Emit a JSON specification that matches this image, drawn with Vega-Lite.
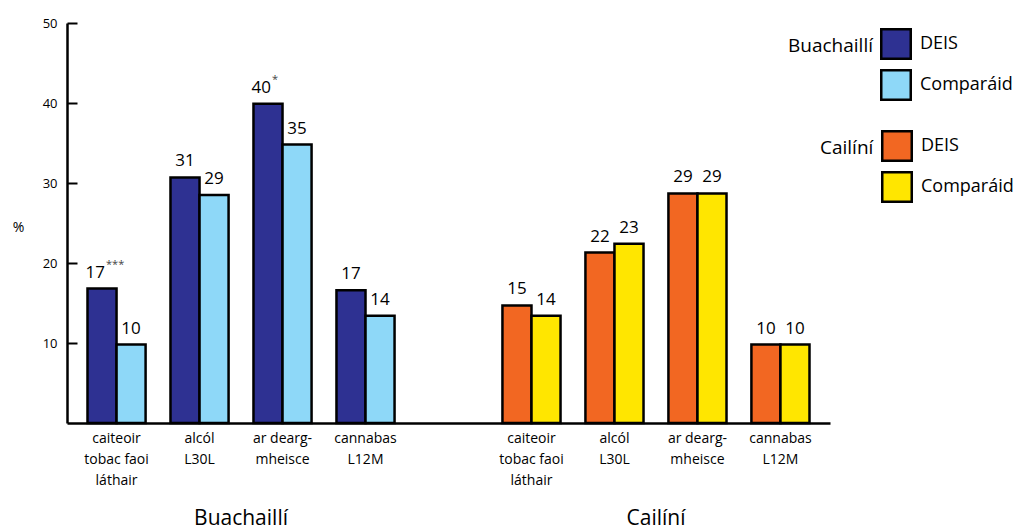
{
  "$schema": "https://vega.github.io/schema/vega-lite/v6.json",
  "width": 763,
  "height": 400,
  "autosize": {"type": "none"},
  "padding": {"left": 67, "top": 23, "right": 189, "bottom": 108},
  "config": {
    "view": {"stroke": null},
    "font": "Open Sans",
    "axis": {"labelFont": "Open Sans", "titleFont": "Open Sans"},
    "legend": {"labelFont": "Open Sans", "titleFont": "Open Sans"},
    "text": {"font": "Open Sans"}
  },
  "data": {
    "values": [
      {"gender": "Buachaillí", "measure": "caiteoir|tobac faoi|láthair", "group": "DEIS", "value": 16.8, "label": "17", "sig": "***"},
      {"gender": "Buachaillí", "measure": "caiteoir|tobac faoi|láthair", "group": "Comparáid", "value": 9.8, "label": "10", "sig": ""},
      {"gender": "Buachaillí", "measure": "alcól|L30L", "group": "DEIS", "value": 30.7, "label": "31", "sig": ""},
      {"gender": "Buachaillí", "measure": "alcól|L30L", "group": "Comparáid", "value": 28.5, "label": "29", "sig": ""},
      {"gender": "Buachaillí", "measure": "ar dearg-|mheisce", "group": "DEIS", "value": 39.9, "label": "40", "sig": "*"},
      {"gender": "Buachaillí", "measure": "ar dearg-|mheisce", "group": "Comparáid", "value": 34.8, "label": "35", "sig": ""},
      {"gender": "Buachaillí", "measure": "cannabas|L12M", "group": "DEIS", "value": 16.6, "label": "17", "sig": ""},
      {"gender": "Buachaillí", "measure": "cannabas|L12M", "group": "Comparáid", "value": 13.4, "label": "14", "sig": ""},
      {"gender": "Cailíní", "measure": "caiteoir|tobac faoi|láthair", "group": "DEIS", "value": 14.7, "label": "15", "sig": ""},
      {"gender": "Cailíní", "measure": "caiteoir|tobac faoi|láthair", "group": "Comparáid", "value": 13.4, "label": "14", "sig": ""},
      {"gender": "Cailíní", "measure": "alcól|L30L", "group": "DEIS", "value": 21.3, "label": "22", "sig": ""},
      {"gender": "Cailíní", "measure": "alcól|L30L", "group": "Comparáid", "value": 22.4, "label": "23", "sig": ""},
      {"gender": "Cailíní", "measure": "ar dearg-|mheisce", "group": "DEIS", "value": 28.7, "label": "29", "sig": ""},
      {"gender": "Cailíní", "measure": "ar dearg-|mheisce", "group": "Comparáid", "value": 28.7, "label": "29", "sig": ""},
      {"gender": "Cailíní", "measure": "cannabas|L12M", "group": "DEIS", "value": 9.8, "label": "10", "sig": ""},
      {"gender": "Cailíní", "measure": "cannabas|L12M", "group": "Comparáid", "value": 9.8, "label": "10", "sig": ""}
    ]
  },
  "transform": [{"calculate": "datum.gender + '/' + datum.measure", "as": "key"}],
  "encoding": {
    "y": {
      "field": "value",
      "type": "quantitative",
      "scale": {"domain": [0, 50], "nice": false, "zero": true},
      "axis": {
        "title": "%",
        "titleAngle": 0,
        "titleX": -49,
        "titleY": 204,
        "titleAlign": "center",
        "titleBaseline": "middle",
        "titleFontSize": 14,
        "titleFontWeight": "normal",
        "titleColor": "black",
        "values": [10, 20, 30, 40, 50],
        "grid": false,
        "domainColor": "black",
        "domainWidth": 2.5,
        "tickColor": "black",
        "tickWidth": 2,
        "tickSize": -10,
        "labelPadding": 20,
        "labelFontSize": 13,
        "labelColor": "black"
      }
    },
    "xOffset": {
      "field": "group",
      "type": "nominal",
      "scale": {"domain": ["DEIS", "Comparáid"], "paddingInner": 0, "paddingOuter": 0}
    }
  },
  "layer": [
    {
      "transform": [{"filter": "datum.gender == 'Buachaillí'"}],
      "mark": {"type": "bar", "stroke": "black", "strokeWidth": 2.5},
      "encoding": {
        "x": {
          "field": "key",
          "type": "nominal",
          "scale": {
            "domain": ["Buachaillí/caiteoir|tobac faoi|láthair", "Buachaillí/alcól|L30L", "Buachaillí/ar dearg-|mheisce", "Buachaillí/cannabas|L12M", "gap", "Cailíní/caiteoir|tobac faoi|láthair", "Cailíní/alcól|L30L", "Cailíní/ar dearg-|mheisce", "Cailíní/cannabas|L12M"],
            "paddingInner": 0.3,
            "paddingOuter": 0.247
          },
          "axis": {
            "orient": "bottom",
            "title": null,
            "domainColor": "black",
            "domainWidth": 2.5,
            "ticks": false,
            "labelExpr": "datum.value == 'gap' ? '' : split(split(datum.value, '/')[1], '|')",
            "labelFontSize": 14,
            "labelColor": "black",
            "labelLineHeight": 21,
            "labelPadding": 8,
            "labelBaseline": "top",
            "labelAngle": 0,
            "labelOverlap": false
          }
        },
        "color": {
          "field": "group",
          "type": "nominal",
          "scale": {"domain": ["DEIS", "Comparáid"], "range": ["#2E3192", "#8ED8F8"]},
          "legend": {
            "title": "Buachaillí",
            "orient": "none",
            "legendX": 721,
            "legendY": 5,
            "titleOrient": "left",
            "titleAnchor": "start",
            "titleBaseline": "line-top",
            "titleLineHeight": 37,
            "titleFontSize": 19,
            "titleFontWeight": "normal",
            "titleColor": "black",
            "titlePadding": 7,
            "labelFontSize": 18,
            "labelColor": "black",
            "labelOffset": 8,
            "symbolType": "square",
            "symbolSize": 870,
            "symbolStrokeColor": "black",
            "symbolStrokeWidth": 2.5,
            "symbolOpacity": 1,
            "rowPadding": 1,
            "padding": 0
          }
        }
      }
    },
    {
      "transform": [{"filter": "datum.gender == 'Cailíní'"}],
      "mark": {"type": "bar", "stroke": "black", "strokeWidth": 2.5},
      "encoding": {
        "x": {"field": "key", "type": "nominal", "axis": null},
        "color": {
          "field": "group",
          "type": "nominal",
          "scale": {"domain": ["DEIS", "Comparáid"], "range": ["#F26722", "#FFE600"]},
          "legend": {
            "title": "Cailíní",
            "orient": "none",
            "legendX": 753,
            "legendY": 107,
            "titleOrient": "left",
            "titleAnchor": "start",
            "titleBaseline": "line-top",
            "titleLineHeight": 37,
            "titleFontSize": 19,
            "titleFontWeight": "normal",
            "titleColor": "black",
            "titlePadding": 7,
            "labelFontSize": 18,
            "labelColor": "black",
            "labelOffset": 8,
            "symbolType": "square",
            "symbolSize": 870,
            "symbolStrokeColor": "black",
            "symbolStrokeWidth": 2.5,
            "symbolOpacity": 1,
            "rowPadding": 1,
            "padding": 0
          }
        }
      }
    },
    {
      "transform": [{"filter": "datum.sig == ''"}],
      "mark": {"type": "text", "align": "center", "baseline": "alphabetic", "dy": -11, "fontSize": 17, "color": "black"},
      "encoding": {
        "x": {
          "field": "key",
          "type": "nominal",
          "axis": {
            "orient": "bottom",
            "title": null,
            "domain": false,
            "ticks": false,
            "labelExpr": "datum.value == 'Buachaillí/alcól|L30L' ? 'Buachaillí' : datum.value == 'Cailíní/alcól|L30L' ? 'Cailíní' : ''",
            "labelOffset": 41.5,
            "labelFontSize": 21,
            "labelColor": "black",
            "labelPadding": 101,
            "labelBaseline": "alphabetic",
            "labelAngle": 0,
            "labelOverlap": false
          }
        },
        "text": {"field": "label"}
      }
    },
    {
      "transform": [{"filter": "datum.sig != ''"}],
      "mark": {"type": "text", "align": "right", "baseline": "alphabetic", "dx": 3, "dy": -11, "fontSize": 17, "color": "black"},
      "encoding": {
        "x": {"field": "key", "type": "nominal", "axis": null},
        "text": {"field": "label"}
      }
    },
    {
      "transform": [{"filter": "datum.sig != ''"}],
      "mark": {"type": "text", "align": "left", "baseline": "alphabetic", "dx": 4, "dy": -21, "fontSize": 11, "color": "#444444"},
      "encoding": {
        "x": {"field": "key", "type": "nominal", "axis": null},
        "text": {"field": "sig"}
      }
    }
  ],
  "resolve": {"scale": {"color": "independent"}, "axis": {"x": "independent"}}
}
